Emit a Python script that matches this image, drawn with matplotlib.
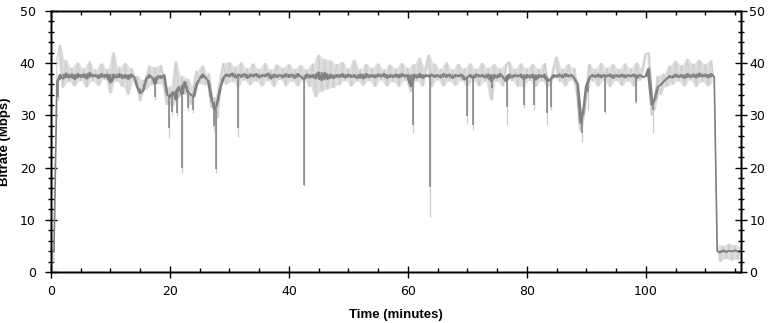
import numpy as np
import matplotlib
matplotlib.use("Agg")
import matplotlib.pyplot as plt
from matplotlib.ticker import MultipleLocator

# sample times in minutes (every 30 s)
time_min = np.arange(0.0, 116.01, 0.5)

# smoothed bitrate (Mbps), one row per 5 minutes
bitrate_avg = [
    4.0, 3.9, 36.5, 37.8, 37.0, 38.1, 37.2, 37.9, 36.9, 38.0,
    37.3, 37.9, 37.0, 38.2, 37.4, 37.8, 37.1, 38.0, 37.3, 37.9,
    36.2, 37.9, 37.2, 38.0, 37.1, 37.8, 36.9, 37.9, 37.3, 35.5,
    34.2, 34.8, 36.9, 37.8, 37.2, 36.0, 37.6, 37.1, 37.8, 34.0,
    33.5, 34.5, 33.0, 35.5, 34.0, 36.5, 34.5, 34.0, 33.5, 36.0,
    37.0, 37.9, 37.2, 36.5, 33.0, 31.0, 32.5, 35.5, 37.2, 37.9,
    37.4, 38.1, 37.2, 37.9, 37.3, 38.0, 37.1, 37.9, 37.4, 38.0,
    37.2, 37.8, 37.4, 38.1, 37.0, 37.9, 37.3, 37.8, 37.2, 38.0,
    37.3, 37.9, 37.1, 38.0, 37.4, 36.9, 37.9, 37.2, 37.8, 37.0,
    38.3, 36.7, 38.2, 36.9, 37.9, 37.1, 37.8, 37.3, 38.0, 37.2,
    37.9, 37.3, 37.8, 37.1, 37.9, 37.0, 38.0, 37.3, 37.8, 37.2,
    37.9, 37.4, 38.0, 37.1, 37.8, 37.3, 37.9, 37.2, 38.0, 37.4,
    37.8, 35.5, 37.9, 37.2, 38.0, 37.1, 37.8, 37.4, 37.9, 37.3,
    37.8, 37.2, 38.0, 37.3, 37.9, 37.1, 37.8, 37.4, 37.9, 36.8,
    37.3, 37.8, 37.1, 37.9, 37.4, 37.8, 37.2, 37.9, 36.5, 37.8,
    37.2, 38.0, 37.3, 36.5, 37.9, 37.2, 37.8, 37.4, 37.9, 36.9,
    37.8, 37.2, 37.9, 36.8, 37.8, 37.3, 37.9, 36.5, 36.9, 37.8,
    37.3, 37.9, 37.2, 38.0, 37.4, 37.8, 37.1, 36.0, 28.5, 30.5,
    35.5, 37.2, 37.8, 37.3, 37.9, 37.2, 37.8, 37.4, 37.9, 37.1,
    37.8, 37.3, 37.9, 37.2, 37.8, 37.4, 37.9, 37.1, 37.8, 37.3,
    37.5, 39.0, 32.0, 33.0, 35.5, 35.8, 36.5, 37.0, 37.6, 37.2,
    37.9, 37.3, 37.8, 37.1, 38.0, 37.3, 37.9, 37.2, 38.1, 37.4,
    37.9, 37.2, 38.0, 37.4, 4.0, 3.7, 4.2, 3.8, 4.1, 3.9,
    4.2, 3.9, 4.0,
]

# raw (per frame group) bitrate, same sampling
bitrate_raw = [
    5.2, 1.8, 41.0, 43.5, 35.3, 40.6, 36.4, 39.1, 35.6, 40.1,
    36.6, 39.0, 35.4, 40.3, 36.5, 38.8, 35.7, 39.9, 36.8, 38.9,
    34.3, 42.0, 36.5, 39.2, 35.5, 40.0, 34.0, 39.0, 36.6, 37.5,
    32.8, 36.8, 35.0, 39.5, 35.8, 39.2, 36.0, 39.6, 35.8, 32.0,
    35.5, 31.8, 40.3, 33.5, 37.5, 34.0, 37.0, 32.0, 35.5, 38.5,
    36.0, 39.5, 35.8, 38.0, 31.5, 33.5, 29.5, 37.0, 40.0, 35.9,
    40.2, 36.4, 39.3, 35.4, 40.1, 36.7, 39.0, 35.8, 39.9, 36.5,
    38.9, 35.6, 40.0, 36.6, 38.8, 35.5, 39.7, 36.8, 39.1, 35.7,
    39.8, 36.5, 38.9, 35.6, 39.6, 36.7, 38.8, 35.5, 39.9, 33.5,
    41.6, 34.5, 40.8, 35.0, 40.5, 35.3, 39.8, 35.8, 40.2, 36.6,
    39.0, 35.6, 40.6, 36.5, 38.9, 35.7, 39.8, 36.6, 39.1, 35.5,
    39.9, 36.7, 38.8, 35.6, 39.7, 36.4, 39.0, 35.5, 40.0, 36.6,
    39.1, 34.5, 39.8, 36.5, 41.0, 35.6, 39.0, 41.6, 35.5, 39.9,
    36.7, 38.9, 35.6, 40.1, 36.5, 38.8, 35.7, 39.8, 36.6, 39.0,
    35.5, 39.9, 36.6, 38.9, 35.6, 40.0, 36.4, 39.1, 33.0, 39.8,
    36.5, 39.0, 35.6, 39.7, 40.3, 36.6, 38.9, 35.5, 39.9, 35.5,
    39.0, 36.6, 39.8, 35.5, 38.9, 36.5, 40.0, 35.5, 36.0, 39.1,
    41.2, 36.5, 38.9, 35.6, 39.8, 36.7, 39.0, 34.0, 27.0, 29.5,
    34.0, 39.8, 36.5, 38.9, 35.6, 40.0, 36.6, 39.1, 35.5, 39.8,
    36.6, 38.9, 35.7, 39.9, 36.5, 39.0, 35.6, 40.1, 36.7, 38.9,
    41.9, 42.0, 30.0, 31.5, 37.5, 34.0, 38.0, 35.5, 39.5, 35.9,
    40.4, 36.5, 39.6, 35.6, 40.8, 36.7, 39.9, 35.5, 40.6, 36.4,
    39.8, 35.6, 40.5, 36.5, 5.3, 2.0, 5.0, 2.5, 5.4, 2.2,
    5.1, 2.4, 4.8,
]

# short single-sample drops: time, smoothed minimum, raw minimum
dip_time = [1.1, 17.5, 19.8, 20.3, 21.1, 22.0, 23.0, 23.9, 27.4, 27.7,
            31.4, 42.5, 60.8, 63.8, 69.9, 70.9, 74.1, 76.6, 79.5, 81.2,
            83.4, 84.1, 89.2, 90.2, 93.1, 98.3, 101.2]
dip_avg = [33.5, 33.5, 27.6, 30.6, 30.4, 20.0, 31.4, 31.0, 28.0, 19.8,
           27.6, 16.7, 28.2, 16.3, 29.8, 28.2, 35.2, 31.6, 32.0, 32.0,
           30.5, 31.6, 26.6, 34.5, 30.7, 32.6, 31.0]
dip_raw = [33.0, 33.0, 25.7, 30.0, 29.8, 19.0, 30.8, 30.4, 27.0, 19.0,
           25.9, 16.5, 26.6, 10.6, 28.5, 27.2, 33.0, 28.2, 31.4, 31.0,
           28.2, 31.0, 25.0, 31.0, 30.2, 32.2, 26.6]

LIGHT = "#cccccc"
LIGHT_FILL = "#dedede"
DARK = "#808080"


def draw_series(ax, t, values, line_color, fill_color, lw):
    """Noisy series: shade the spread between neighbouring samples, then the trace."""
    v = np.asarray(values)
    mid = (t[:-1] + t[1:]) / 2
    lo = np.minimum(v[:-1], v[1:])
    hi = np.maximum(v[:-1], v[1:])
    # leave the big level changes (start / end of stream) as plain lines
    ax.fill_between(mid, lo, hi, where=(hi - lo) < 15, interpolate=False,
                    color=fill_color, lw=0)
    ax.plot(t, v, color=line_color, lw=lw)


fig = plt.figure(figsize=(7.71, 3.23), dpi=100)
ax = fig.add_axes([51 / 771, 51 / 323, 690 / 771, 261 / 323])

dip_level = np.interp(dip_time, time_min, bitrate_avg)
draw_series(ax, time_min, bitrate_raw, LIGHT, LIGHT_FILL, 0.7)
ax.vlines(dip_time, dip_raw, dip_level, color=LIGHT, lw=0.9)
draw_series(ax, time_min, bitrate_avg, DARK, DARK, 1.2)
ax.vlines(dip_time, dip_avg, dip_level, color=DARK, lw=1.1)

ax.set_xlim(0, 116)
ax.set_ylim(0, 50)

ax.xaxis.set_major_locator(MultipleLocator(20))
ax.xaxis.set_minor_locator(MultipleLocator(5))
ax.yaxis.set_major_locator(MultipleLocator(10))
ax.yaxis.set_minor_locator(MultipleLocator(2))

ax.tick_params(axis="x", which="major", direction="inout", length=9,
               width=1, pad=5, labelsize=9)
ax.tick_params(axis="x", which="minor", direction="in", length=3, width=1)
ax.tick_params(axis="y", which="major", direction="inout", length=8,
               width=1, pad=7, labelsize=9)
ax.tick_params(axis="y", which="minor", direction="inout", length=5, width=1)

# top ticks point inward; right side repeats the y labels
ax_top = ax.twiny()
ax_top.set_xlim(ax.get_xlim())
ax_top.xaxis.set_major_locator(MultipleLocator(20))
ax_top.xaxis.set_minor_locator(MultipleLocator(5))
ax_top.tick_params(which="major", direction="in", length=5, width=1,
                   labeltop=False, labelbottom=False)
ax_top.tick_params(which="minor", direction="in", length=3, width=1)

ax_right = ax.twinx()
ax_right.set_ylim(ax.get_ylim())
ax_right.yaxis.set_major_locator(MultipleLocator(10))
ax_right.yaxis.set_minor_locator(MultipleLocator(2))
ax_right.tick_params(which="major", direction="inout", length=8, width=1,
                     pad=2, labelsize=9)
ax_right.tick_params(which="minor", direction="inout", length=5, width=1)

for a in (ax, ax_top, ax_right):
    for s in a.spines.values():
        s.set_linewidth(1)

ax.set_xlabel("Time (minutes)", family="Liberation Sans", fontsize=9.5,
              fontweight="bold", labelpad=8)
ax.set_ylabel("Bitrate (Mbps)", family="Liberation Sans", fontsize=9.5,
              fontweight="bold", labelpad=6)

fig.savefig("out.png", dpi=100)
